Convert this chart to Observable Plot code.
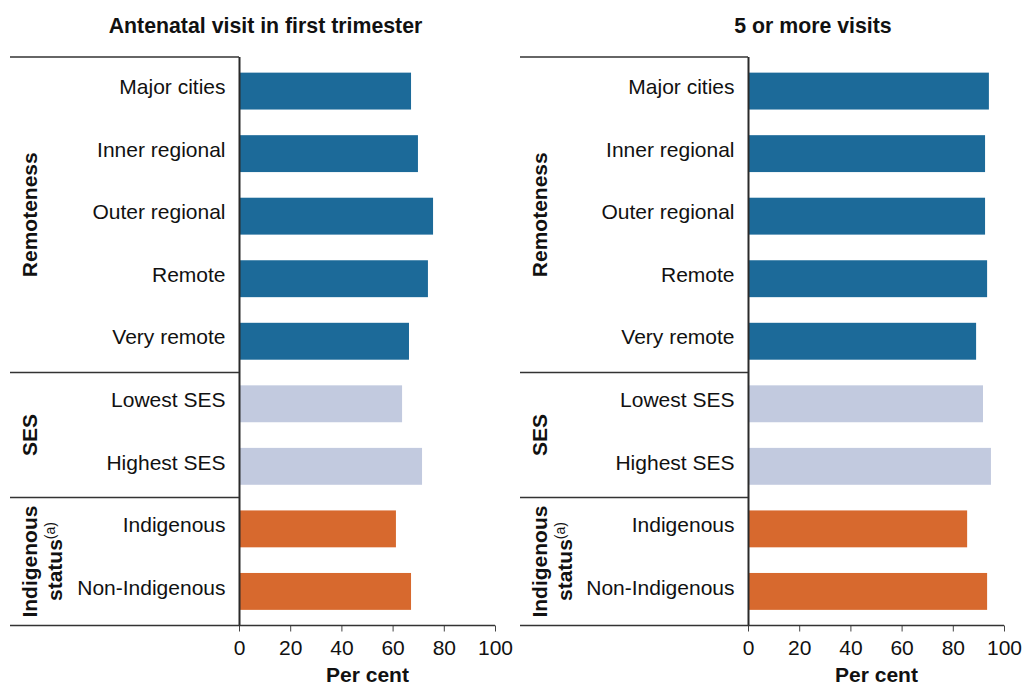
<!DOCTYPE html>
<html><head><meta charset="utf-8">
<script src="https://cdn.jsdelivr.net/npm/d3@7"></script>
<script src="https://cdn.jsdelivr.net/npm/@observablehq/plot@0.6"></script>
<style>
body{margin:0;background:#fff;font-family:"Liberation Sans",Arial,sans-serif;}
#wrap{position:relative;width:1026px;height:685px;overflow:hidden;}
.panel{position:absolute;top:0;}
.title{height:44px;position:relative;}
.title span{position:absolute;top:16px;transform:translateX(-50%);font-weight:bold;font-size:21.3px;line-height:21px;white-space:nowrap;color:#111;}
.panel svg{display:block;overflow:visible;}
g[aria-label="x-axis label"] text{font-weight:bold;}
</style></head><body><div id="wrap"></div>
<script>
// ---- data ----
const categories = ["Major cities","Inner regional","Outer regional","Remote","Very remote","Lowest SES","Highest SES","Indigenous","Non-Indigenous"];
const categoryGroups = ["Remoteness","Remoteness","Remoteness","Remoteness","Remoteness","SES","SES","Indigenous status","Indigenous status"];
const groupNames = ["Remoteness","SES","Indigenous status"];
const groupColors = ["#1c6a99","#c2cadf","#d7692e"];
const firstTrimester = [67.2, 69.9, 75.8, 73.8, 66.4, 63.7, 71.5, 61.3, 67.2];
const fivePlusVisits = [94.1, 92.6, 92.6, 93.4, 89.1, 91.8, 94.9, 85.6, 93.4];
const panelTitles = ["Antenatal visit in first trimester", "5 or more visits"];
const xTicks = [0, 20, 40, 60, 80, 100];
const xLabel = "Per cent";

const FONT = "'Liberation Sans', Arial, sans-serif";
const wrap = document.getElementById("wrap");

function panel({left, width, marginLeft, marginRight, titleCenter, values, title}) {
  const div = document.createElement("div");
  div.className = "panel";
  div.style.left = left + "px";
  div.style.width = width + "px";
  const t = document.createElement("div");
  t.className = "title";
  const s = document.createElement("span");
  s.style.left = titleCenter + "px";
  s.textContent = title;
  t.appendChild(s);
  div.appendChild(t);

  const data = categories.map((c, i) => ({category: c, group: categoryGroups[i], value: values[i]}));
  const svgH = 641;
  const plot = Plot.plot({
    width, height: svgH,
    marginTop: 13, marginBottom: 59.5, marginLeft, marginRight,
    style: {fontFamily: FONT, fontSize: "21px", color: "#111", background: "transparent", overflow: "visible"},
    x: {domain: [0, 100]},
    y: {domain: categories, paddingInner: 0.41, paddingOuter: 0.25, round: false},
    color: {domain: groupNames, range: groupColors},
    marks: [
      Plot.barX(data, {x: "value", y: "category", fill: "group"}),
      Plot.ruleX([0], {stroke: "#2a2a2a", strokeWidth: 2}),
      Plot.axisY({tickSize: 0, tickPadding: 14, fontSize: 21, label: null, dy: -4}),
      Plot.axisX({ticks: xTicks, tickSize: 6, tickPadding: 8, fontSize: 21, stroke: "#444",
                  label: xLabel, labelAnchor: "center", labelArrow: "none", labelOffset: 56})
    ]
  });

  const ys = plot.scale("y");
  const xs = plot.scale("x");
  const pi = ys.paddingInner ?? ys.padding ?? 0.41;
  const po = ys.paddingOuter ?? ys.padding ?? 0.25;
  const band = d3.scaleBand().domain(ys.domain).range(ys.range).paddingInner(pi).paddingOuter(po).align(ys.align ?? 0.5);
  const bw = band.bandwidth();
  const [y0, y1] = [Math.min(...ys.range), Math.max(...ys.range)];
  const frameLeft = Math.min(...xs.range), frameRight = Math.max(...xs.range);
  const lineStart = 10;

  // group boundaries from the band scale
  const bounds = groupNames.map((g) => {
    const idx = categories.map((c, i) => i).filter(i => categoryGroups[i] === g);
    const first = idx[0], last = idx[idx.length - 1];
    const top = first === 0 ? y0 : (band(categories[first - 1]) + bw + band(categories[first])) / 2;
    const bottom = last === categories.length - 1 ? y1 : (band(categories[last]) + bw + band(categories[last + 1])) / 2;
    return {g, top, bottom};
  });

  const svg = d3.select(plot.tagName.toLowerCase() === "svg" ? plot : plot.querySelector("svg"));
  const gl = svg.append("g").attr("stroke", "#333").attr("stroke-width", 1.5);
  const ySeps = [y0, ...bounds.slice(1).map(b => b.top)];
  ySeps.forEach(y => gl.append("line").attr("x1", lineStart).attr("x2", frameLeft).attr("y1", y).attr("y2", y));
  gl.append("line").attr("x1", lineStart).attr("x2", frameRight).attr("y1", y1).attr("y2", y1);

  const gt = svg.append("g").attr("font-family", FONT).attr("fill", "#111").attr("text-anchor", "middle");
  bounds.forEach(b => {
    const cy = (b.top + b.bottom) / 2;
    if (b.g === "Indigenous status") {
      gt.append("text").attr("transform", `translate(37,${cy}) rotate(-90)`)
        .attr("font-weight", "bold").attr("font-size", 21).text("Indigenous");
      const t2 = gt.append("text").attr("transform", `translate(61.5,${cy}) rotate(-90)`).attr("font-size", 21);
      t2.append("tspan").attr("font-weight", "bold").text("status");
      t2.append("tspan").attr("font-size", 14).attr("dy", -7).text("(a)");
    } else {
      gt.append("text").attr("transform", `translate(37,${cy}) rotate(-90)`)
        .attr("font-weight", "bold").attr("font-size", 21).text(b.g);
    }
  });

  div.appendChild(plot);
  wrap.appendChild(div);
}

panel({left: 0, width: 510, marginLeft: 239, marginRight: 15, titleCenter: 265.5, values: firstTrimester, title: panelTitles[0]});
panel({left: 510, width: 516, marginLeft: 238, marginRight: 22, titleCenter: 303, values: fivePlusVisits, title: panelTitles[1]});
</script></body></html>
